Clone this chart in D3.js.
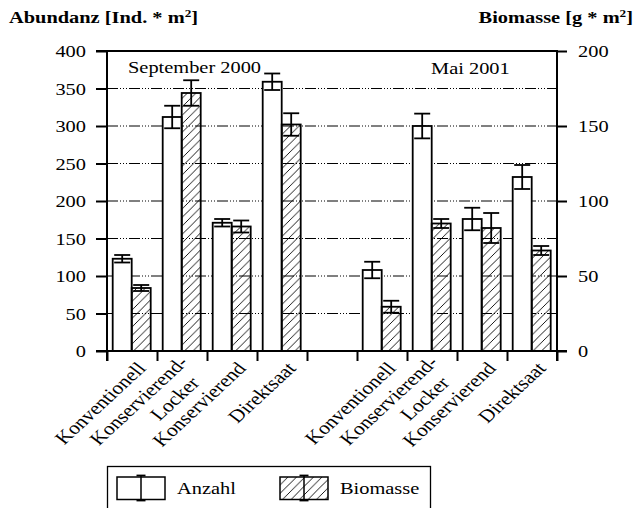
<!DOCTYPE html>
<html>
<head>
<meta charset="utf-8">
<script src="https://cdn.jsdelivr.net/npm/d3@7"></script>
<style>
  html, body { margin: 0; padding: 0; background: #fff; }
  svg { display: block; }
</style>
</head>
<body>
<svg id="chart" width="638" height="508"></svg>
<script>
// ---- data ----
const categories = ["Konventionell", "Konservierend-|Locker", "Konservierend", "Direktsaat"];
const periods = ["September 2000", "Mai 2001"];
const abundanz2000 = [123, 312, 171, 359];
const abundanzErr2000 = [5, 15, 5, 11];
const biomasse2000 = [42, 172, 83, 151];
const biomasseErr2000 = [2, 8.5, 4, 7.5];
const abundanz2001 = [108, 300, 176, 232];
const abundanzErr2001 = [11, 16.5, 15, 16];
const biomasse2001 = [29.5, 85, 82, 67];
const biomasseErr2001 = [4, 3, 10, 3];
const leftTicks = [0, 50, 100, 150, 200, 250, 300, 350, 400];
const rightTicks = [0, 50, 100, 150, 200];
const seriesNames = ["Anzahl", "Biomasse"];

// ---- layout ----
const FONT = "Liberation Serif";
const svg = d3.select("#chart");
const X0 = 107, X1 = 557, Y0 = 351, Y1 = 51;
const SX = 1.2; // horizontal stretch of text
const FS = 17;

const slots = ["S0", "S1", "S2", "S3", "gap", "M0", "M1", "M2", "M3"];
const x = d3.scaleBand().domain(slots).range([X0, X1]).padding(0);
const xInner = d3.scaleBand().domain(seriesNames).range([5.7, 43.7]).padding(0);
const yL = d3.scaleLinear().domain([0, 400]).range([Y0, Y1]);
const yR = d3.scaleLinear().domain([0, 200]).range([Y0, Y1]);

function stext(g, px, py, anchor, opts = {}) {
  return g.append("text")
    .attr("transform", `translate(${px},${py}) scale(${SX},1)` + (opts.rotate ? ` rotate(${opts.rotate})` : ""))
    .attr("text-anchor", anchor || "start")
    .style("font-family", FONT)
    .style("font-size", (opts.size || FS) + "px")
    .style("font-weight", opts.bold ? "bold" : "normal")
    .style("fill", "#000");
}

// hatch pattern
const defs = svg.append("defs");
const s = 8.5;
defs.append("pattern").attr("id", "hatch").attr("patternUnits", "userSpaceOnUse")
  .attr("width", s).attr("height", s)
  .append("path")
  .attr("d", `M-1,1 l2,-2 M0,${s} l${s},${-s} M${s - 1},${s + 1} l2,-2`)
  .attr("stroke", "#000").attr("stroke-width", 0.9);

// grid lines
const grid = svg.append("g");
grid.selectAll("line").data(leftTicks.filter(d => d > 0 && d < 400)).join("line")
  .attr("x1", X0).attr("x2", X1)
  .attr("y1", d => yL(d)).attr("y2", d => yL(d))
  .attr("stroke", "#000").attr("stroke-width", 1)
  .attr("stroke-dasharray", "11,2,1,2,1,2,1,2");

// top frame line
svg.append("line").attr("x1", X0 - 11).attr("x2", X1).attr("y1", Y1).attr("y2", Y1)
  .attr("stroke", "#000").attr("stroke-width", 2);

// axes (ticks via d3 axes)
const axL = svg.append("g").attr("transform", `translate(${X0},0)`)
  .call(d3.axisLeft(yL).tickValues(leftTicks).tickSize(11).tickSizeOuter(0).tickFormat(""));
const axR = svg.append("g").attr("transform", `translate(${X1},0)`)
  .call(d3.axisRight(yR).tickValues(rightTicks).tickSize(10).tickSizeOuter(0).tickFormat(""));
const axB = svg.append("g").attr("transform", `translate(0,${Y0})`)
  .call(d3.axisBottom(d3.scaleLinear().domain([0, 9]).range([X0, X1]))
    .tickValues(d3.range(0, 10)).tickSize(10).tickSizeOuter(0).tickFormat(""));
[axL, axR, axB].forEach(a => {
  a.select(".domain").remove();
  a.selectAll(".tick text").remove();
  a.selectAll(".tick line").attr("stroke", "#000").attr("stroke-width", 2);
});
// axis lines
svg.append("line").attr("x1", X0).attr("x2", X0).attr("y1", Y1 - 1).attr("y2", Y0 + 10)
  .attr("stroke", "#000").attr("stroke-width", 2);
svg.append("line").attr("x1", X1).attr("x2", X1).attr("y1", Y1 - 1).attr("y2", Y0 + 10)
  .attr("stroke", "#000").attr("stroke-width", 2);

// tick labels
leftTicks.forEach(v => stext(svg, 86, yL(v) + 6, "end").text(v));
rightTicks.forEach(v => stext(svg, 578, yR(v) + 6, "start").text(v));

// bars
const groups = [
  { prefix: "S", ab: abundanz2000, abE: abundanzErr2000, bio: biomasse2000, bioE: biomasseErr2000 },
  { prefix: "M", ab: abundanz2001, abE: abundanzErr2001, bio: biomasse2001, bioE: biomasseErr2001 }
];
const barData = [];
groups.forEach(gr => {
  categories.forEach((c, i) => {
    barData.push({ slot: gr.prefix + i, series: "Anzahl", v: gr.ab[i], e: gr.abE[i], y: yL });
    barData.push({ slot: gr.prefix + i, series: "Biomasse", v: gr.bio[i], e: gr.bioE[i], y: yR });
  });
});
const barsG = svg.append("g");
barsG.selectAll("rect").data(barData).join("rect")
  .attr("x", d => x(d.slot) + xInner(d.series))
  .attr("width", xInner.bandwidth())
  .attr("y", d => d.y(d.v))
  .attr("height", d => Y0 - d.y(d.v))
  .attr("fill", d => d.series === "Anzahl" ? "#fff" : "url(#hatch)")
  .attr("stroke", "#000").attr("stroke-width", 1.8);

// error bars
const capW = 16;
const errG = svg.append("g").attr("stroke", "#000").attr("stroke-width", 1.8);
barData.forEach(d => {
  const cx = x(d.slot) + xInner(d.series) + xInner.bandwidth() / 2;
  const yt = d.y(d.v + d.e), yb = d.y(d.v - d.e);
  errG.append("line").attr("x1", cx).attr("x2", cx).attr("y1", yt).attr("y2", yb);
  errG.append("line").attr("x1", cx - capW / 2).attr("x2", cx + capW / 2).attr("y1", yt).attr("y2", yt);
  errG.append("line").attr("x1", cx - capW / 2).attr("x2", cx + capW / 2).attr("y1", yb).attr("y2", yb);
});

// bottom axis line on top
svg.append("line").attr("x1", X0 - 11).attr("x2", X1 + 10).attr("y1", Y0).attr("y2", Y0)
  .attr("stroke", "#000").attr("stroke-width", 2);

// period labels
stext(svg, 128, 73, "start").text(periods[0]);
stext(svg, 431, 74, "start").text(periods[1]);

// category labels (rotated, stretched like the rest of the figure)
groups.forEach(gr => {
  categories.forEach((c, i) => {
    const cx = x(gr.prefix + i) + x.bandwidth() / 2;
    const lines = c.split("|");
    const t = stext(svg, cx + 15, Y0 + 18, "end", { rotate: -48, size: 18 });
    if (lines.length === 1) {
      t.text(lines[0]);
    } else {
      t.append("tspan").attr("x", 0).attr("dy", -9).text(lines[0]);
      t.append("tspan").attr("x", -9).attr("dy", 21).text(lines[1]);
    }
  });
});

// titles
const tl = stext(svg, 9, 23, "start", { bold: true });
tl.append("tspan").text("Abundanz [Ind. * m");
tl.append("tspan").attr("dy", -6).style("font-size", "11px").text("2");
tl.append("tspan").attr("dy", 6).text("]");
const tr = stext(svg, 633, 23, "end", { bold: true });
tr.append("tspan").text("Biomasse [g * m");
tr.append("tspan").attr("dy", -6).style("font-size", "11px").text("2");
tr.append("tspan").attr("dy", 6).text("]");

// legend
const lg = svg.append("g");
lg.append("rect").attr("x", 107.5).attr("y", 466.5).attr("width", 323).attr("height", 50)
  .attr("fill", "#fff").attr("stroke", "#000").attr("stroke-width", 1.3);
const legendItems = [
  { name: seriesNames[0], x: 117, fill: "#fff", tx: 177 },
  { name: seriesNames[1], x: 280, fill: "url(#hatch)", tx: 340 }
];
legendItems.forEach(it => {
  lg.append("rect").attr("x", it.x).attr("y", 477).attr("width", 48).attr("height", 22.5)
    .attr("fill", it.fill).attr("stroke", "#000").attr("stroke-width", 1.5);
  const cx = it.x + 24;
  lg.append("line").attr("x1", cx).attr("x2", cx).attr("y1", 475.5).attr("y2", 500.5)
    .attr("stroke", "#000").attr("stroke-width", 1.5);
  lg.append("line").attr("x1", cx - 4.5).attr("x2", cx + 4.5).attr("y1", 475.5).attr("y2", 475.5)
    .attr("stroke", "#000").attr("stroke-width", 1.8);
  lg.append("line").attr("x1", cx - 4.5).attr("x2", cx + 4.5).attr("y1", 500.5).attr("y2", 500.5)
    .attr("stroke", "#000").attr("stroke-width", 1.8);
  stext(lg, it.tx, 494, "start").text(it.name);
});
</script>
</body>
</html>
